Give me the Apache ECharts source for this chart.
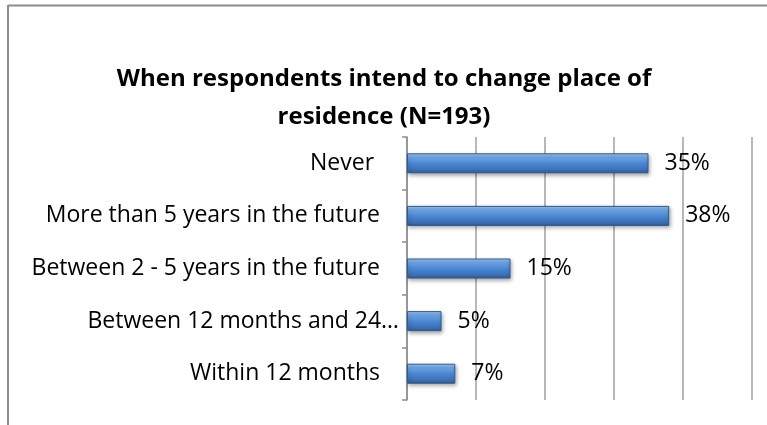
<!DOCTYPE html>
<html><head><meta charset="utf-8">
<script src="https://cdn.jsdelivr.net/npm/echarts@6/dist/echarts.min.js"></script>
<style>html,body{margin:0;padding:0;background:#fff}#c{width:767px;height:425px}</style>
</head><body><div id="c"></div>
<script>
const categories = ["Within 12 months", "Between 12 months and 24\u2026", "Between 2 - 5 years in the future", "More than 5 years in the future", "Never "];
const values = [7, 5, 15, 38, 35];
const titleText = "When respondents intend to change place of\nresidence (N=193)";

const chart = echarts.init(document.getElementById('c'));
const FONT = "Open Sans";
chart.setOption({
  animation: false,
  title: {
    text: titleText, left: 379, top: 55, textAlign: 'center',
    textStyle: { fontFamily: FONT, fontWeight: 'bold', fontSize: 24, lineHeight: 38, color: '#000' }
  },
  grid: { left: 407, right: 15, top: 137, bottom: 25 },
  xAxis: {
    type: 'value', min: 0, max: 50, interval: 10,
    axisLabel: { show: false }, axisTick: { show: false }, axisLine: { show: false },
    splitLine: { show: true, lineStyle: { color: '#a0a0a0', width: 1.5 } }
  },
  yAxis: {
    type: 'category', data: categories,
    axisLine: { show: true, lineStyle: { color: '#8c8c8c', width: 1.5 } },
    axisTick: { show: true, inside: false, length: 5, lineStyle: { color: '#8c8c8c', width: 1.5 } },
    axisLabel: {
      margin: 8, fontFamily: FONT, fontSize: 23, color: '#000',
      formatter: function (v) { return v.indexOf('\u2026') >= 0 ? '{b|' + v + '}' : '{a|' + v + '}'; },
      rich: {
        a: { fontFamily: FONT, fontSize: 23, color: '#000', padding: [0, 19, 0, 0] },
        b: { fontFamily: FONT, fontSize: 23, color: '#000', padding: [0, 0, 0, 0] }
      }
    }
  },
  series: [{
    type: 'bar', data: values, barWidth: 20,
    itemStyle: {
      color: new echarts.graphic.LinearGradient(0, 0, 0, 1, [
        { offset: 0, color: '#a3c9f3' },
        { offset: 0.18, color: '#72a9e8' },
        { offset: 0.5, color: '#4b88d3' },
        { offset: 0.85, color: '#3a6fb3' },
        { offset: 1, color: '#2d5a93' }
      ]),
      borderColor: '#2d5a93', borderWidth: 1,
      shadowColor: 'rgba(0,0,0,0.35)', shadowBlur: 4, shadowOffsetX: 1, shadowOffsetY: 2
    },
    label: {
      show: true, position: 'right', distance: 16, formatter: '{c}%',
      fontFamily: FONT, fontSize: 23, color: '#000'
    }
  }],
  graphic: [
    { type: 'line', shape: { x1: 8, y1: 5.5, x2: 767, y2: 5.5 }, style: { stroke: '#8c8c8c', lineWidth: 2 } },
    { type: 'line', shape: { x1: 8, y1: 5, x2: 8, y2: 425 }, style: { stroke: '#8c8c8c', lineWidth: 2 } }
  ]
});
</script></body></html>
